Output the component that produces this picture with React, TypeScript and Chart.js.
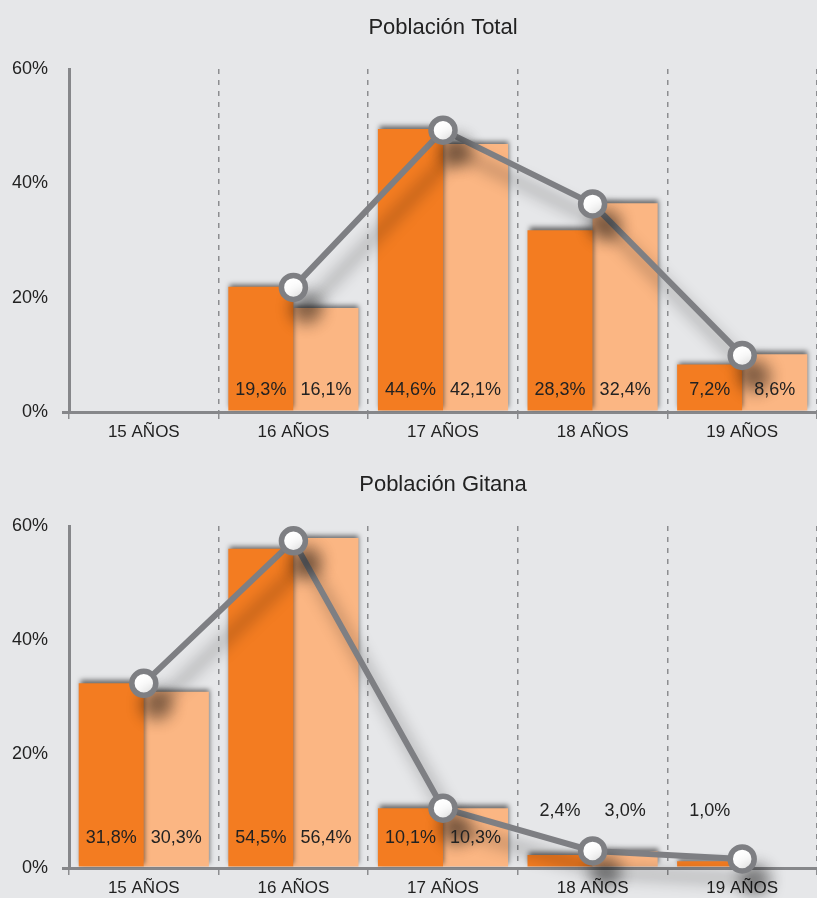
import React, { useEffect, useRef } from 'react';
import { Chart, registerables } from 'chart.js';

Chart.register(...registerables);

// ---------- data ----------
const categories = ['15 AÑOS', '16 AÑOS', '17 AÑOS', '18 AÑOS', '19 AÑOS'];
const yTickValues = [0, 20, 40, 60];

// Población Total (bar heights as drawn in the reference, labels as printed)
const totalTitle = 'Población Total';
const totalDark = [null, 21.9, 49.5, 31.8, 8.3];
const totalLight = [null, 18.2, 46.9, 36.5, 10.1];
const totalLine = [null, 21.8, 49.3, 36.4, 9.9];
const totalDarkLabels = ['', '19,3%', '44,6%', '28,3%', '7,2%'];
const totalLightLabels = ['', '16,1%', '42,1%', '32,4%', '8,6%'];

// Población Gitana
const gitanaTitle = 'Población Gitana';
const gitanaDark = [32.4, 56.0, 10.5, 2.3, 1.2];
const gitanaLight = [30.9, 57.9, 10.5, 3.0, 0];
const gitanaLine = [32.4, 57.4, 10.5, 3.0, 1.6];
const gitanaDarkLabels = ['31,8%', '54,5%', '10,1%', '2,4%', '1,0%'];
const gitanaLightLabels = ['30,3%', '56,4%', '10,3%', '3,0%', ''];

// ---------- styles ----------
const BG = '#E6E7E9';
const DARK = '#F37C21';
const LIGHT = '#FBB683';
const GRAY = '#7E7F83';
const AXIS = '#86878A';
const TEXT = '#222222';
const FONT = "'Liberation Sans', Arial, sans-serif";

const shadowPlugin = {
  id: 'shadowPlugin',
  beforeDatasetDraw(chart: any, args: any) {
    const ds = chart.data.datasets[args.index];
    const ctx = chart.ctx;
    ctx.save();
    if (ds.type === 'line') {
      ctx.shadowColor = 'rgba(0,0,0,0.42)';
      ctx.shadowBlur = 16;
      ctx.shadowOffsetX = 13;
      ctx.shadowOffsetY = 21;
    } else {
      ctx.shadowColor = 'rgba(0,0,0,0.55)';
      ctx.shadowBlur = 5;
      ctx.shadowOffsetX = 1;
      ctx.shadowOffsetY = -3;
    }
  },
  afterDatasetDraw(chart: any) {
    chart.ctx.restore();
  },
};

const bgPlugin = {
  id: 'bgPlugin',
  beforeDraw(chart: any) {
    const ctx = chart.ctx;
    ctx.save();
    ctx.fillStyle = BG;
    ctx.fillRect(0, 0, chart.width, chart.height);
    ctx.restore();
  },
};

const labelPlugin = {
  id: 'labelPlugin',
  afterDatasetsDraw(chart: any) {
    const ctx = chart.ctx;
    const opts = chart.options.plugins.labelPlugin || {};
    ctx.save();
    ctx.font = `18px ${FONT}`;
    ctx.fillStyle = TEXT;
    ctx.textAlign = 'center';
    ctx.textBaseline = 'middle';
    chart.data.datasets.forEach((ds: any, i: number) => {
      if (!ds.valueLabels) return;
      const meta = chart.getDatasetMeta(i);
      meta.data.forEach((el: any, j: number) => {
        const txt = ds.valueLabels[j];
        if (!txt) return;
        const p = el.getProps(['x', 'y', 'base'], true);
        const h = p.base - p.y;
        const ty = h > 30 ? p.base - opts.inside : p.base - opts.above;
        ctx.fillText(txt, p.x, ty);
      });
    });
    // title
    const ca = chart.chartArea;
    ctx.font = `22px ${FONT}`;
    ctx.fillText(opts.title, (ca.left + ca.right) / 2, ca.top - 41);
    ctx.restore();
  },
};

type PanelProps = {
  title: string;
  dark: (number | null)[];
  light: (number | null)[];
  line: (number | null)[];
  darkLabels: string[];
  lightLabels: string[];
  height: number;
  axisHeight: number;
  padTop: number;
  inside: number;
};

function Panel(props: PanelProps) {
  const ref = useRef<HTMLCanvasElement>(null);
  useEffect(() => {
    const chart = new Chart(ref.current as HTMLCanvasElement, {
      type: 'bar',
      data: {
        labels: categories,
        datasets: [
          {
            type: 'bar',
            label: 'a',
            data: props.dark,
            backgroundColor: DARK,
            barPercentage: 1,
            categoryPercentage: 0.87,
            valueLabels: props.darkLabels,
          } as any,
          {
            type: 'bar',
            label: 'b',
            data: props.light,
            backgroundColor: LIGHT,
            barPercentage: 1,
            categoryPercentage: 0.87,
            valueLabels: props.lightLabels,
          } as any,
          {
            type: 'line',
            label: 'c',
            data: props.line,
            borderColor: GRAY,
            borderWidth: 6,
            pointRadius: 12,
            pointBorderWidth: 5.5,
            pointBackgroundColor: '#ffffff',
            pointBorderColor: GRAY,
            order: -1,
            clip: false,
            tension: 0,
          } as any,
        ],
      },
      options: {
        animation: false,
        responsive: false,
        devicePixelRatio: 1,
        layout: { autoPadding: false, padding: { top: props.padTop, left: 0, right: 0, bottom: 0 } },
        plugins: {
          legend: { display: false },
          tooltip: { enabled: false },
          title: { display: false },
          labelPlugin: { inside: props.inside, above: 55, title: props.title },
        } as any,
        scales: {
          x: {
            offset: true,
            grid: {
              display: true,
              offset: true,
              drawOnChartArea: true,
              drawTicks: true,
              tickLength: 7,
              color: '#8C8D90',
              lineWidth: 1.5,
            },
            border: { display: true, color: AXIS, width: 3, dash: [5, 6] },
            ticks: {
              color: TEXT,
              font: { family: FONT, size: 17 },
              padding: 3,
              maxRotation: 0,
            },
            afterFit(scale: any) {
              scale.height = props.axisHeight;
              scale.paddingLeft = 0;
              scale.paddingRight = 0;
            },
          },
          y: {
            min: 0,
            max: 60,
            afterBuildTicks(scale: any) {
              scale.ticks = yTickValues.map((v) => ({ value: v }));
            },
            grid: {
              display: true,
              drawOnChartArea: false,
              drawTicks: true,
              tickLength: 7,
              lineWidth: 3,
              color: (ctx: any) => (ctx.tick && ctx.tick.value === 0 ? AXIS : 'rgba(0,0,0,0)'),
            },
            border: { display: true, color: AXIS, width: 3 },
            ticks: {
              color: TEXT,
              font: { family: FONT, size: 18 },
              padding: 14,
              callback: (v: any) => `${v}%`,
            },
            afterFit(scale: any) {
              scale.width = 69;
            },
          },
        },
      },
      plugins: [bgPlugin, shadowPlugin, labelPlugin],
    } as any);
    return () => chart.destroy();
  }, []);
  return (
    <canvas
      ref={ref}
      width={817}
      height={props.height}
      style={{ display: 'block', width: 817, height: props.height }}
    />
  );
}

export default function App() {
  useEffect(() => {
    document.body.style.margin = '0';
    document.body.style.background = BG;
  }, []);
  return (
    <div style={{ width: 817, height: 898, background: BG, overflow: 'hidden' }}>
      <Panel
        title={totalTitle}
        dark={totalDark}
        light={totalLight}
        line={totalLine}
        darkLabels={totalDarkLabels}
        lightLabels={totalLightLabels}
        height={450}
        axisHeight={38}
        padTop={69}
        inside={20}
      />
      <Panel
        title={gitanaTitle}
        dark={gitanaDark}
        light={gitanaLight}
        line={gitanaLine}
        darkLabels={gitanaDarkLabels}
        lightLabels={gitanaLightLabels}
        height={448}
        axisHeight={30}
        padTop={76}
        inside={28}
      />
    </div>
  );
}
